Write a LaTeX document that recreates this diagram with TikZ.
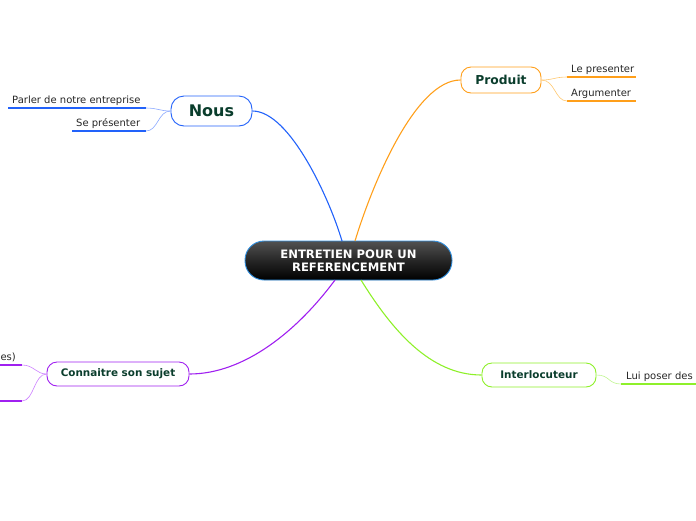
\documentclass[tikz,border=0pt]{standalone}
\usepackage{fontspec}
\setmainfont{DejaVu Sans}
\begin{document}
\begin{tikzpicture}[x=1pt,y=-1pt,
  topic/.style={draw, fill=white, rounded corners=10pt, line width=0.9pt, inner sep=0pt, font=\bfseries, text=textgreen},
  leaf/.style={inner sep=0pt, anchor=base west, font=\fontsize{10}{12}\selectfont, text=black!85},
  branch/.style={line width=1.1pt},
  twig/.style={line width=0.6pt},
  uline/.style={line width=1.4pt}
]
\definecolor{textgreen}{HTML}{0A3D2C}
\definecolor{cblue}{HTML}{2262FA}
\definecolor{lblue}{HTML}{8AA8FF}
\definecolor{cborder}{HTML}{3190E0}
\definecolor{corange}{HTML}{FF9F1A}
\definecolor{lorange}{HTML}{FFC870}
\definecolor{cpurple}{HTML}{A020F0}
\definecolor{lpurple}{HTML}{CC80FF}
\definecolor{cgreen}{HTML}{8EF02A}
\definecolor{lgreen}{HTML}{C0F590}
\useasboundingbox (0,0) rectangle (696,520);

% central
\node[draw=cborder, line width=0.9pt, rounded corners=19pt, minimum width=207pt, minimum height=39pt,
  top color=black!68, bottom color=black, middle color=black!85, inner sep=0pt,
  text=white, font=\bfseries\fontsize{11.6}{13}\selectfont, align=center] (c) at (348.5,260.5)
  {ENTRETIEN POUR UN\\REFERENCEMENT};

% topics
\node[topic, draw=cblue, minimum width=81pt, minimum height=30pt, rounded corners=13pt, font=\bfseries\fontsize{16}{18}\selectfont] (nous) at (211.5,111) {Nous};
\node[topic, draw=corange, minimum width=80pt, minimum height=26pt, font=\bfseries\fontsize{12.3}{14}\selectfont] (prod) at (501,80) {Produit};
\node[topic, draw=cpurple, minimum width=142pt, minimum height=24pt, font=\bfseries\fontsize{10.4}{12}\selectfont] (conn) at (118,374) {Connaitre son sujet};
\node[topic, draw=cgreen, minimum width=114pt, minimum height=24pt, font=\bfseries\fontsize{10.4}{12}\selectfont] (inter) at (539,375) {Interlocuteur};

% branches
\coordinate (cnous) at (342,241);
\coordinate (cprod) at (355,241);
\coordinate (cconn) at (335,280);
\coordinate (cinter) at (361,280);
\draw[branch, cblue] (nous.east) .. controls (290,111) and (330,200) .. (cnous);
\draw[branch, corange] (cprod) .. controls (372,185) and (415,80) .. (prod.west);
\draw[branch, cpurple] (cconn) .. controls (298,330) and (245,374) .. (conn.east);
\draw[branch, cgreen] (cinter) .. controls (392,330) and (430,375) .. (inter.west);

% Nous leaves
\coordinate (n1a) at (8,108); \coordinate (n1b) at (146,108);
\coordinate (n2a) at (72,131); \coordinate (n2b) at (146,131);
\draw[uline, cblue] (n1a) -- (n1b);
\draw[uline, cblue] (n2a) -- (n2b);
\node[leaf] (t1) at (12,103) {Parler de notre entreprise};
\node[leaf] (t2) at (76,126) {Se présenter};
\draw[twig, lblue] (nous.west) .. controls (160,111) and (157,108) .. (n1b);
\draw[twig, lblue] (nous.west) .. controls (158,111) and (158,131) .. (n2b);

% Produit leaves
\coordinate (p1a) at (567,77); \coordinate (p1b) at (636,77);
\coordinate (p2a) at (567,101); \coordinate (p2b) at (636,101);
\draw[uline, corange] (p1a) -- (p1b);
\draw[uline, corange] (p2a) -- (p2b);
\node[leaf] (t3) at (571,72) {Le presenter};
\node[leaf] (t4) at (571,96) {Argumenter};
\draw[twig, lorange] (prod.east) .. controls (553,80) and (555,77) .. (p1a);
\draw[twig, lorange] (prod.east) .. controls (555,80) and (555,101) .. (p2a);

% Connaitre leaves
\coordinate (k1a) at (0,365); \coordinate (k1b) at (22,365);
\coordinate (k2a) at (0,401); \coordinate (k2b) at (22,401);
\draw[uline, cpurple] (k1a) -- (k1b);
\draw[uline, cpurple] (k2a) -- (k2b);
\node[leaf, anchor=base east] (t5) at (16,360) {es)};
\draw[twig, lpurple] (conn.west) .. controls (36,374) and (34,365) .. (k1b);
\draw[twig, lpurple] (conn.west) .. controls (34,374) and (34,401) .. (k2b);

% Interlocuteur leaves
\coordinate (i1a) at (621,384); \coordinate (i1b) at (696,384);
\draw[uline, cgreen] (i1a) -- (i1b);
\node[leaf] (t6) at (626,379) {Lui poser des};
\draw[twig, lgreen] (inter.east) .. controls (610,375) and (608,384) .. (i1a);
\end{tikzpicture}
\end{document}
